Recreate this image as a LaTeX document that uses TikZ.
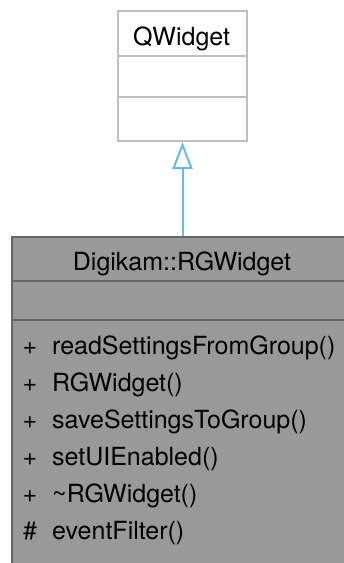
\documentclass[tikz,border=0pt]{standalone}
\usepackage{fontspec}
\setmainfont{TeX Gyre Heros}
\usepackage{xcolor}
\usetikzlibrary{arrows.meta, positioning}
\definecolor{inheritblue}{HTML}{63B8FF}
\definecolor{baseedge}{HTML}{BFBFBF}
\definecolor{classfill}{HTML}{999999}
\definecolor{classedge}{HTML}{666666}

\begin{document}
\begin{tikzpicture}[x=1pt, y=-1pt,
  classbox/.style={rectangle, draw, line width=2pt, inner sep=0pt, anchor=north west},
  divider/.style={line width=2pt},
  umltext/.style={font=\fontsize{25}{30}\selectfont, inner sep=0pt},
  member/.style={umltext, anchor=base west},
  visib/.style={umltext, anchor=base}]
  \useasboundingbox (0,0) rectangle (344,563);
  \clip (0,0) rectangle (344,563);

  %% Base class
  \node[classbox, draw=baseedge, fill=white, minimum width=129pt, minimum height=130pt]
    (qwidget) at (117,10) {};
  \draw[divider, baseedge] (qwidget.west |- 0,56) -- (qwidget.east |- 0,56);
  \draw[divider, baseedge] (qwidget.west |- 0,97) -- (qwidget.east |- 0,97);
  \node[umltext, anchor=base] (qwidgetname) at (181.5,45) {QWidget};

  %% Derived class
  \node[classbox, draw=classedge, fill=classfill, minimum width=350pt, minimum height=340pt]
    (rgwidget) at (10.5,236) {};
  \draw[divider, classedge] (rgwidget.west |- 0,281) -- (rgwidget.east |- 0,281);
  \draw[divider, classedge] (rgwidget.west |- 0,320) -- (rgwidget.east |- 0,320);
  \node[umltext, anchor=base] (rgwidgetname) at (182,270) {Digikam::RGWidget};

  %% Members
  \node[visib] (vis1) at (30,354) {+};
  \node[member] (readsettings) at (52,354) {readSettingsFromGroup()};
  \node[visib] (vis2) at (30,391) {+};
  \node[member] (ctor) at (52,391) {RGWidget()};
  \node[visib] (vis3) at (30,428) {+};
  \node[member] (savesettings) at (52,428) {saveSettingsToGroup()};
  \node[visib] (vis4) at (30,465) {+};
  \node[member] (setui) at (52,465) {setUIEnabled()};
  \node[visib] (vis5) at (30,502) {+};
  \node[member] (dtor) at (52,502) {\textasciitilde RGWidget()};
  \node[visib] (vis6) at (30,539) {\#};
  \node[member] (eventfilter) at (52,539) {eventFilter()};

  %% Inheritance
  \draw[inheritblue, line width=2pt, -{Triangle[open, length=27pt, width=20pt]}]
    (qwidget.south |- rgwidget.north) -- (qwidget.south);
\end{tikzpicture}
\end{document}
